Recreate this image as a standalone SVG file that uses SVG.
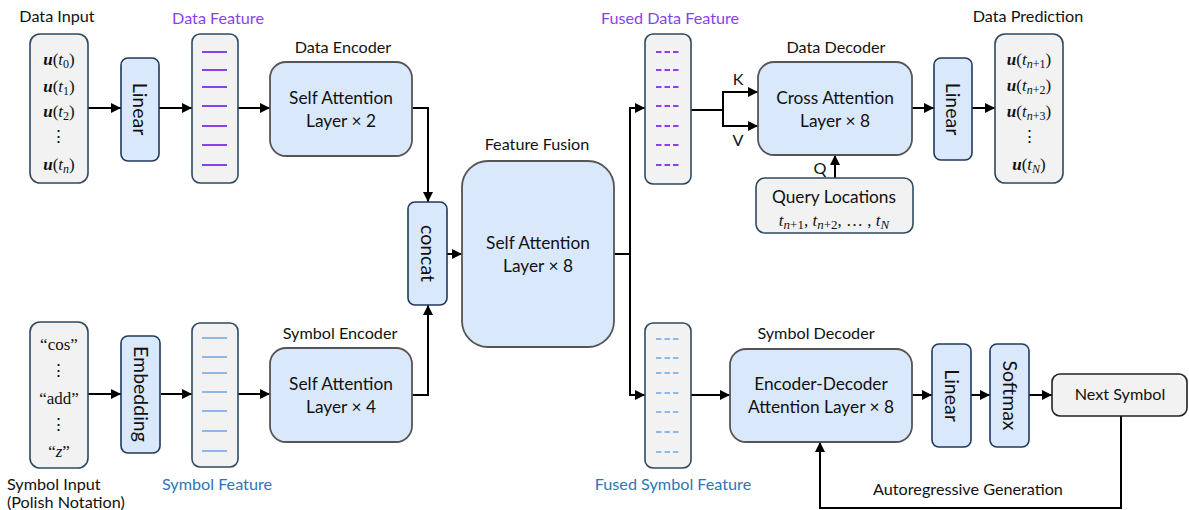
<svg xmlns="http://www.w3.org/2000/svg" width="1189" height="510" viewBox="0 0 1189 510">
<style>
text{font-family:Lato,"Liberation Sans",sans-serif;fill:#111;}
.lbl{font-size:16.2px;text-anchor:middle;}
.in{font-size:17.3px;text-anchor:middle;}
.rot{font-size:19.5px;text-anchor:middle;}
.math{font-family:"Liberation Serif","DejaVu Serif",serif;font-size:17px;text-anchor:middle;}
.gray{fill:#f2f2f2;stroke:#2e4a62;stroke-width:1.6;}
.blk{fill:#dae8fc;stroke:#555;stroke-width:1.8;}
.thin{fill:#dae8fc;stroke:#1f3a5a;stroke-width:1.6;}
.pl{stroke:#8a3ff0;stroke-width:2.2;}
.bl{stroke:#8fb8e6;stroke-width:2.2;}
.dash{stroke-dasharray:5.5,3;}
.con{fill:none;stroke:#000;stroke-width:2;}
.arr{marker-end:url(#ah);}
</style>
<defs>
<marker id="ah" viewBox="0 0 10 10" refX="10" refY="5" markerWidth="10" markerHeight="10" markerUnits="userSpaceOnUse" orient="auto"><path d="M0,0 L10,5 L0,10 z" fill="#000"/></marker>
</defs>

<g id="connectors">
<path class="con arr" d="M88,108 H121"/>
<path class="con arr" d="M159,108 H192"/>
<path class="con arr" d="M238,108 H270"/>
<path class="con arr" d="M412,108 H428 V202"/>
<path class="con arr" d="M88,394 H121"/>
<path class="con arr" d="M161,394 H192"/>
<path class="con arr" d="M238,394 H270"/>
<path class="con arr" d="M412,395 H428 V305"/>
<path class="con arr" d="M447,254 H462"/>
<path class="con arr" d="M614,254 H630 V108 H645"/>
<path class="con arr" d="M630,254 V395 H645"/>
<path class="con" d="M691,110 H723 M723,92 V126"/>
<path class="con arr" d="M722,92 H758"/>
<path class="con arr" d="M722,126 H758"/>
<path class="con arr" d="M835,178 V155"/>
<path class="con arr" d="M912,108 H934"/>
<path class="con arr" d="M972,108 H995"/>
<path class="con arr" d="M691,395 H730"/>
<path class="con arr" d="M912,395 H932"/>
<path class="con arr" d="M971,395 H990"/>
<path class="con arr" d="M1029,395 H1052"/>
<path class="con arr" d="M1121,416 V508 H820 V442"/>
<text class="lbl" x="738" y="85">K</text>
<text class="lbl" x="738" y="146">V</text>
<text class="lbl" x="820" y="174">Q</text>
<text class="lbl" x="968" y="495">Autoregressive Generation</text>
</g>

<g id="data-input">
<text class="lbl" x="57" y="22">Data Input</text>
<rect class="gray" x="30" y="34" width="58" height="149" rx="10"/>
<text class="math" x="59" y="65"><tspan font-weight="bold" font-style="italic">u</tspan>(<tspan font-style="italic">t</tspan><tspan font-size="12" dy="3">0</tspan><tspan dy="-3">)</tspan></text>
<text class="math" x="59" y="92"><tspan font-weight="bold" font-style="italic">u</tspan>(<tspan font-style="italic">t</tspan><tspan font-size="12" dy="3">1</tspan><tspan dy="-3">)</tspan></text>
<text class="math" x="59" y="117"><tspan font-weight="bold" font-style="italic">u</tspan>(<tspan font-style="italic">t</tspan><tspan font-size="12" dy="3">2</tspan><tspan dy="-3">)</tspan></text>
<text class="math" x="58" y="142">⋮</text>
<text class="math" x="59" y="170"><tspan font-weight="bold" font-style="italic">u</tspan>(<tspan font-style="italic">t</tspan><tspan font-size="12" font-style="italic" dy="3">n</tspan><tspan dy="-3">)</tspan></text>
</g>

<g id="linear-data">
<rect class="thin" x="121" y="58" width="38" height="103" rx="7"/>
<text class="rot" transform="translate(140,109) rotate(90)" y="7">Linear</text>
</g>

<g id="data-feature">
<text class="lbl" x="218" y="24" style="fill:#8a3ff0">Data Feature</text>
<rect class="gray" x="192" y="34" width="46" height="149" rx="8"/>
<path class="pl" d="M202,52 H227 M202,70 H227 M202,87 H227 M202,106 H227 M202,126 H227 M202,145 H227 M202,165 H227"/>
</g>

<g id="data-encoder">
<text class="lbl" x="343" y="53">Data Encoder</text>
<rect class="blk" x="270" y="62" width="142" height="94" rx="16"/>
<text class="in" x="341" y="104">Self Attention</text>
<text class="in" x="341" y="127">Layer × 2</text>
</g>

<g id="symbol-input">
<rect class="gray" x="30" y="322" width="58" height="146" rx="10"/>
<text class="math" x="59" y="350">“cos”</text>
<text class="math" x="58" y="376">⋮</text>
<text class="math" x="59" y="404">“add”</text>
<text class="math" x="58" y="430">⋮</text>
<text class="math" x="59" y="457">“<tspan font-style="italic">z</tspan>”</text>
<text class="lbl" x="7" y="490" style="text-anchor:start">Symbol Input</text>
<text class="lbl" x="7" y="508" style="text-anchor:start">(Polish Notation)</text>
</g>

<g id="embedding">
<rect class="thin" x="121" y="336" width="39" height="117" rx="7"/>
<text class="rot" transform="translate(140.5,394) rotate(90)" y="7">Embedding</text>
</g>

<g id="symbol-feature">
<rect class="gray" x="192" y="323" width="46" height="144" rx="8"/>
<path class="bl" d="M202,338 H227 M202,357 H227 M202,373 H227 M202,392 H227 M202,411 H227 M202,431 H227 M202,451 H227"/>
<text class="lbl" x="217" y="490" style="fill:#2e75b6">Symbol Feature</text>
</g>

<g id="symbol-encoder">
<text class="lbl" x="340" y="339">Symbol Encoder</text>
<rect class="blk" x="270" y="348" width="142" height="94" rx="16"/>
<text class="in" x="341" y="390">Self Attention</text>
<text class="in" x="341" y="413">Layer × 4</text>
</g>

<g id="concat">
<rect class="thin" x="408" y="202" width="39" height="103" rx="7"/>
<text class="rot" transform="translate(427.5,253.5) rotate(90)" y="7">concat</text>
</g>

<g id="feature-fusion">
<text class="lbl" x="537" y="150">Feature Fusion</text>
<rect class="blk" x="462" y="161" width="152" height="186" rx="26"/>
<text class="in" x="538" y="249">Self Attention</text>
<text class="in" x="538" y="272">Layer × 8</text>
</g>

<g id="fused-data-feature">
<text class="lbl" x="670" y="24" style="fill:#8a3ff0">Fused Data Feature</text>
<rect class="gray" x="645" y="34" width="46" height="150" rx="8"/>
<path class="pl dash" d="M656,52 H681 M656,70 H681 M656,87 H681 M656,106 H681 M656,126 H681 M656,145 H681 M656,165 H681"/>
</g>

<g id="data-decoder">
<text class="lbl" x="836" y="53">Data Decoder</text>
<rect class="blk" x="758" y="62" width="154" height="93" rx="16"/>
<text class="in" x="835" y="104">Cross Attention</text>
<text class="in" x="835" y="127">Layer × 8</text>
</g>

<g id="query-locations">
<rect class="gray" x="756" y="178" width="157" height="55" rx="9"/>
<text class="in" x="834" y="203">Query Locations</text>
<text class="math" x="834" y="226" font-size="18.5"><tspan font-style="italic">t</tspan><tspan font-size="13" dy="3"><tspan font-style="italic">n</tspan>+1</tspan><tspan dy="-3">, </tspan><tspan font-style="italic">t</tspan><tspan font-size="13" dy="3"><tspan font-style="italic">n</tspan>+2</tspan><tspan dy="-3">, … , </tspan><tspan font-style="italic">t</tspan><tspan font-size="13" font-style="italic" dy="3">N</tspan></text>
</g>

<g id="linear-data-out">
<rect class="thin" x="934" y="58" width="38" height="102" rx="7"/>
<text class="rot" transform="translate(953,109) rotate(90)" y="7">Linear</text>
</g>

<g id="data-prediction">
<text class="lbl" x="1028" y="22">Data Prediction</text>
<rect class="gray" x="995" y="34" width="68" height="149" rx="10"/>
<text class="math" x="1029" y="65"><tspan font-weight="bold" font-style="italic">u</tspan>(<tspan font-style="italic">t</tspan><tspan font-size="12" dy="3"><tspan font-style="italic">n</tspan>+1</tspan><tspan dy="-3">)</tspan></text>
<text class="math" x="1029" y="91"><tspan font-weight="bold" font-style="italic">u</tspan>(<tspan font-style="italic">t</tspan><tspan font-size="12" dy="3"><tspan font-style="italic">n</tspan>+2</tspan><tspan dy="-3">)</tspan></text>
<text class="math" x="1029" y="117"><tspan font-weight="bold" font-style="italic">u</tspan>(<tspan font-style="italic">t</tspan><tspan font-size="12" dy="3"><tspan font-style="italic">n</tspan>+3</tspan><tspan dy="-3">)</tspan></text>
<text class="math" x="1029" y="142">⋮</text>
<text class="math" x="1029" y="170"><tspan font-weight="bold" font-style="italic">u</tspan>(<tspan font-style="italic">t</tspan><tspan font-size="12" font-style="italic" dy="3">N</tspan><tspan dy="-3">)</tspan></text>
</g>

<g id="fused-symbol-feature">
<rect class="gray" x="645" y="323" width="46" height="145" rx="8"/>
<path class="bl dash" d="M656,339 H681 M656,358 H681 M656,373 H681 M656,393 H681 M656,412 H681 M656,432 H681 M656,452 H681"/>
<text class="lbl" x="673" y="490" style="fill:#2e75b6">Fused Symbol Feature</text>
</g>

<g id="symbol-decoder">
<text class="lbl" x="816" y="339">Symbol Decoder</text>
<rect class="blk" x="730" y="349" width="182" height="93" rx="16"/>
<text class="in" x="821" y="390">Encoder-Decoder</text>
<text class="in" x="821" y="413">Attention Layer × 8</text>
</g>

<g id="linear-symbol">
<rect class="thin" x="932" y="344" width="39" height="103" rx="7"/>
<text class="rot" transform="translate(951.5,395.5) rotate(90)" y="7">Linear</text>
</g>

<g id="softmax">
<rect class="thin" x="990" y="344" width="39" height="103" rx="7"/>
<text class="rot" transform="translate(1009.5,395.5) rotate(90)" y="7">Softmax</text>
</g>

<g id="next-symbol">
<rect x="1052" y="374" width="135" height="42" rx="8" fill="#f2f2f2" stroke="#222" stroke-width="1.6"/>
<text class="lbl" x="1120" y="400">Next Symbol</text>
</g>
</svg>
